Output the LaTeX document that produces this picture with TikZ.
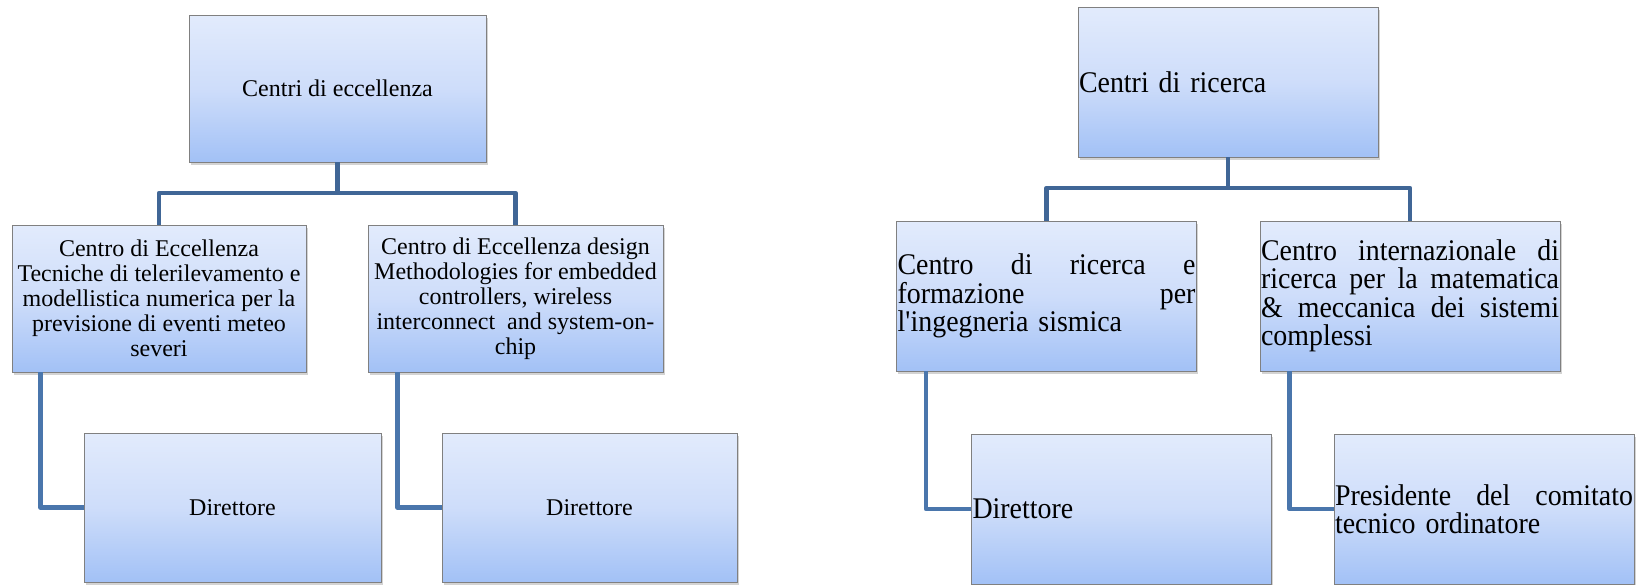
\documentclass[tikz,border=0pt]{standalone}
\usepackage{fontspec}
\setmainfont{Liberation Serif}
% slightly condensed serif for the right-hand chart
\newfontfamily\tallserif[FakeStretch=0.93]{Liberation Serif}
\usetikzlibrary{shadows,calc}

\definecolor{boxtop}{RGB}{226,235,252}
\definecolor{boxmid}{RGB}{206,221,250}
\definecolor{boxbot}{RGB}{162,193,246}
\definecolor{boxline}{RGB}{128,128,128}
\definecolor{busblue}{RGB}{64,102,150}
\definecolor{legblue}{RGB}{74,118,172}

% justified lines in the right-hand chart: words joined by stretchable space
\newlength\jw
\setlength\jw{298pt}
\newcommand\jline[1]{\leavevmode\makebox[\jw][l]{#1}}
\newcommand\js{\hskip .25em plus 1fill\relax}

\tikzset{
  orgbox/.style={draw=boxline, line width=0.9pt,
    top color=boxtop, bottom color=boxbot, middle color=boxmid,
    drop shadow={shadow xshift=1.5pt, shadow yshift=-3pt, opacity=0.35},
    inner sep=0pt},
  cbox/.style={orgbox, align=center, font=\fontsize{24}{25}\selectfont},
  jbox/.style={orgbox, text width=298pt, inner xsep=1pt, align=left,
    minimum height=150pt, font=\tallserif\fontsize{30}{28.5}\selectfont},
  bus/.style={draw=busblue, line width=4.5pt, line join=round},
  leg/.style={draw=legblue, line width=4.5pt, line join=round}
}

\begin{document}
\begin{tikzpicture}[x=1pt, y=-1pt]
\useasboundingbox (0,0) rectangle (1636,584);

% ---- Centri di eccellenza ----
\node[cbox, minimum width=297pt, minimum height=147pt] (topL) at (337.5,88.5) {Centri di eccellenza};
\node[cbox, minimum width=294pt, minimum height=147pt] (cL1) at (159,298.5)
  {Centro di Eccellenza\\Tecniche di telerilevamento e\\modellistica numerica per la\\previsione di eventi meteo\\severi};
\node[cbox, minimum width=295pt, minimum height=147pt] (cL2) at (515.5,298.5)
  {Centro di Eccellenza design\\Methodologies for embedded\\controllers, wireless\\interconnect\ \ and system-on-\\chip};
\node[cbox, minimum width=297pt, minimum height=149pt] (dL1) at (232.5,507.5) {Direttore};
\node[cbox, minimum width=295pt, minimum height=149pt] (dL2) at (589.5,507.5) {Direttore};

\coordinate (busL) at (0,193);
\draw[bus] (topL.south) -- (topL.south |- busL) -| (cL1.north);
\draw[bus] (topL.south |- busL) -| (cL2.north);
\coordinate (kL1) at ([xshift=29pt]cL1.south west);
\coordinate (kL2) at ([xshift=30pt]cL2.south west);
\draw[leg] (kL1) |- (dL1.west);
\draw[leg] (kL2) |- (dL2.west);

% ---- Centri di ricerca ----
\node[jbox] (topR) at (1228,82) {Centri di ricerca};
\node[jbox] (cR1) at (1046.5,296)
  {\jline{Centro\js di\js ricerca\js e}\\\jline{formazione\js per}\\l\textquotesingle ingegneria sismica};
\node[jbox] (cR2) at (1410,296)
  {\jline{Centro\js internazionale\js di}\\\jline{ricerca\js per\js la\js matematica}\\\jline{\&\js meccanica\js dei\js sistemi}\\complessi};
\node[jbox] (dR1) at (1121.5,509) {Direttore};
\node[jbox] (dR2) at (1484,509)
  {\jline{Presidente\js del\js comitato}\\tecnico ordinatore};

\coordinate (busR) at (0,188);
\draw[bus] (topR.south) -- (topR.south |- busR) -| (cR1.north);
\draw[bus] (topR.south |- busR) -| (cR2.north);
\coordinate (kR1) at ([xshift=30pt]cR1.south west);
\coordinate (kR2) at ([xshift=30pt]cR2.south west);
\draw[leg] (kR1) |- (dR1.west);
\draw[leg] (kR2) |- (dR2.west);
\end{tikzpicture}
\end{document}
